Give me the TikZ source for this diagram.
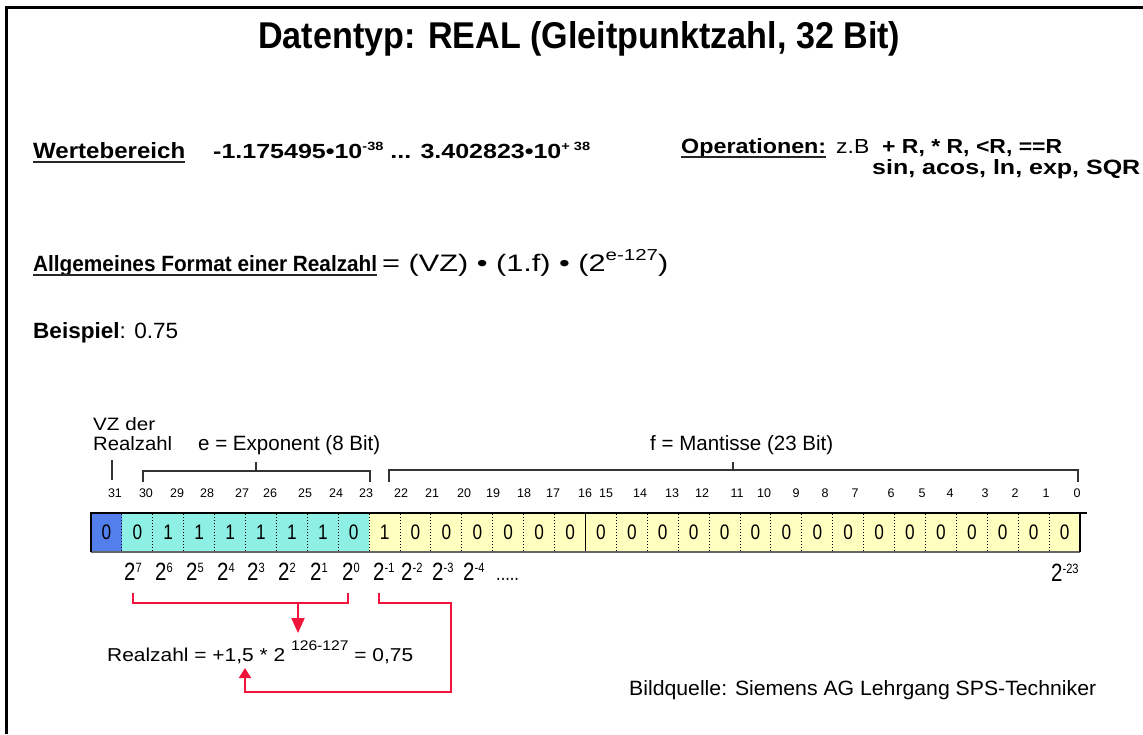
\documentclass[tikz,border=0pt]{standalone}
\usepackage{fontspec}
\setmainfont{Liberation Sans}
\newfontfamily\cnd{Liberation Sans}[FakeStretch=0.82]
\usetikzlibrary{arrows.meta}
\definecolor{signblue}{RGB}{82,127,235}
\definecolor{expcyan}{RGB}{142,240,228}
\definecolor{mantyel}{RGB}{255,255,192}
\definecolor{arrred}{RGB}{240,20,60}
\newcommand\up[2]{\raisebox{#1}{\fontsize{7}{7}\selectfont #2}}
\newcommand\pup[1]{\raisebox{8pt}{\fontsize{13.5}{13.5}\selectfont #1}}
\newcommand\fit[3]{\resizebox{#1pt}{#2pt}{\fontsize{12}{14}\selectfont #3}}
\begin{document}
\begin{tikzpicture}[x=1pt,y=-1pt,
  txt/.style={inner sep=0pt,anchor=base west},
  bitnum/.style={inner sep=0pt,anchor=base,font=\fontsize{12.5}{12.5}\selectfont},
  celld/.style={inner sep=0pt,anchor=base,font=\cnd\fontsize{21}{21}\selectfont},
  pw/.style={inner sep=0pt,anchor=base west,font=\cnd\fontsize{25}{25}\selectfont},
  redline/.style={draw=arrred,line width=2pt},
  brk/.style={draw=black!80,line width=1.5pt},
  uline/.style={draw=black!85,line width=1.6pt}]
\useasboundingbox (0,0) rectangle (1143,734);
% frame
\draw[line width=3pt] (6.5,734) -- (6.5,7.5) -- (1143,7.5);
% title
\node[txt] (title) at (258,48) {\fit{642}{27}{\bfseries Datentyp: REAL (Gleitpunktzahl, 32 Bit)}};
% range
\node[txt] (wb) at (33,158) {\fit{152}{16}{\bfseries Wertebereich}};
\draw[uline] (wb.base west) ++(0,4) -- ++(152,0);
\node[txt] (range) at (213,158) {\fit{377}{16}{\bfseries -1.175495•10\up{4.5pt}{-38} ... 3.402823•10\up{4.5pt}{+ 38}}};
% operations
\node[txt] (op) at (681,153) {\fit{145}{15}{\bfseries Operationen:}};
\draw[uline] (op.base west) ++(0,4) -- ++(145,0);
\node[txt] (ops1) at (836,153) {\fit{226}{14}{z.B \ \textbf{+ R, * R, <R, ==R}}};
\node[txt] (ops2) at (872,174) {\fit{268}{15}{\bfseries sin, acos, ln, exp, SQR}};
% format
\node[txt] (fmt) at (33,271) {\fit{344}{16}{\bfseries Allgemeines Format einer Realzahl}};
\draw[uline] (fmt.base west) ++(0,4) -- ++(344,0);
\node[txt] (fmt2) at (382,271) {\fit{286}{22}{= (VZ) • (1.f) • (2\raisebox{5.5pt}{\fontsize{8}{8}\selectfont e-127})}};
% example
\node[txt] (bsp) at (33,338) {\fit{145}{16}{\textbf{Beispiel}: 0.75}};
% labels above bits
\node[txt] (vz1) at (93,430) {\fit{62}{13}{VZ der}};
\node[txt] (vz2) at (93,450) {\fit{79}{14}{Realzahl}};
\node[txt] (expl) at (198,450) {\fit{182}{15}{e = Exponent (8 Bit)}};
\node[txt] (manl) at (650,450) {\fit{183}{15}{f = Mantisse (23 Bit)}};
% ticks and brackets
\draw[brk] (112,460) -- (112,480);
\draw[brk] (143,482) -- (143,471) -- (370,471) -- (370,482);
\draw[brk] (256,471) -- (256,462);
\draw[brk] (389,482) -- (389,470) -- (1078,470) -- (1078,482);
\draw[brk] (733,470) -- (733,462);
% bit numbers
\foreach \n/\x in {31/115,30/146,29/177,28/207,27/242,26/270,25/305,24/336,23/366,
  22/401,21/432,20/464,19/493,18/524,17/553,16/585,15/606,14/640,13/672,12/702,
  11/737,10/764,9/796,8/825,7/855,6/891,5/922,4/950,3/985,2/1015,1/1046,0/1077}
  \node[bitnum] (n\n) at (\x,497) {\n};
% cells
\fill[signblue] (91,513) rectangle (121.9,552);
\fill[expcyan] (121.9,513) rectangle (369.2,552);
\fill[mantyel] (369.2,513) rectangle (1080,552);
\foreach \k in {1,...,31}
  \draw[black,line width=1pt,dotted] ({91+\k*30.906},514) -- ({91+\k*30.906},552);
\draw[black,line width=1.5pt] (585.5,513) -- (585.5,552);
\draw[black!60,line width=1.5pt] (91,552) -- (1080,552);
\draw[black,line width=2pt] (91,552) -- (91,513) -- (1087,513);
\draw[black,line width=1.8pt] (1080,513) -- (1080,552);
\foreach \b [count=\i from 0] in {0,0,1,1,1,1,1,1,0,1,0,0,0,0,0,0,0,0,0,0,0,0,0,0,0,0,0,0,0,0,0,0}
  \node[celld] (c\i) at ({91+(\i+0.5)*30.906},539) {\b};
% powers
\foreach \e/\x in {7/124,6/155,5/186,4/217,3/247,2/278,1/310,0/342,-1/373,-2/401,-3/432,-4/463}
  \node[pw] (p\x) at (\x,580) {2\pup{\e}};
\node[txt,font=\cnd\fontsize{20}{20}\selectfont] (dots) at (496,580) {.....};
\node[pw] (plast) at (1051,581) {2\pup{-23}};
% result
\node[txt] (eq) at (107,661) {\fit{306}{20}{Realzahl = +1,5 * 2 \raisebox{6.6pt}{\fontsize{9}{9}\selectfont 126-127} = 0,75}};
\coordinate (l1) at (133,593); \coordinate (l2) at (348,593);
\coordinate (r1) at (379,593);
\coordinate (m) at (298,603); \coordinate (mt) at (298,633);
\coordinate (tip) at (245,668);
\draw[redline] (l1) -- (133,603) -- (348,603) -- (l2);
\draw[redline,-{Triangle[width=13pt,length=15pt]}] (m) -- (mt);
\draw[redline,-{Triangle[width=12pt,length=10pt]}] (r1) -- (379,603) -- (451,603) -- (451,692) -- (245,692) -- (tip);
% source
\node[txt] (src) at (629,695) {\fit{467}{15}{Bildquelle: Siemens AG Lehrgang SPS-Techniker}};
\end{tikzpicture}
\end{document}
